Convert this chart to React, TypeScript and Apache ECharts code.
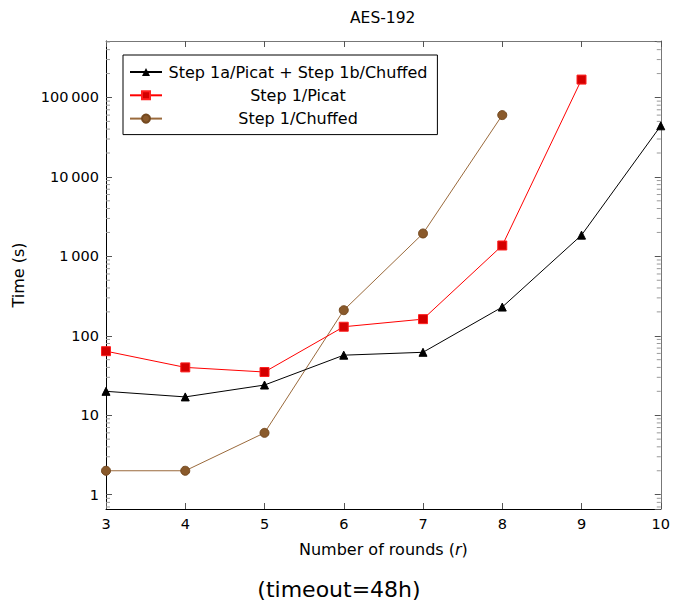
import React, { useEffect, useRef } from "react";
import * as echarts from "echarts";

const rounds = [3, 4, 5, 6, 7, 8, 9, 10];
const seriesNames = ["Step 1a/Picat + Step 1b/Chuffed", "Step 1/Picat", "Step 1/Chuffed"];
const combinedTimes = [20, 17, 24, 57, 62, 230, 1850, 44000];
const picatTimes = [64, 40, 35, 130, 162, 1370, 168000];
const chuffedTimes = [2, 2, 6, 210, 1940, 60000];
const titleText = "AES-192";
const xAxisName = "Number of rounds ({i|r})";
const yAxisName = "Time (s)";
const footnote = "(timeout=48h)";

const FONT = "DejaVu Sans";

const minorTickValues: number[] = [];
[0.1, 1, 10, 100, 1000, 10000, 100000].forEach((d) => {
  [2, 3, 4, 5, 6, 7, 8, 9].forEach((m) => minorTickValues.push(m * d));
});

const fmtThousands = (v: number) =>
  String(Math.round(v)).replace(/\B(?=(\d{3})+(?!\d))/g, "\u2009");

const toPairs = (vals: number[]) => vals.map((v, i) => [rounds[i], v]);

export default function App() {
  const ref = useRef<HTMLDivElement>(null);
  useEffect(() => {
    if (!ref.current) return;
    const chart = echarts.init(ref.current, undefined, { renderer: "svg" });
    const yMin = 0.66;
    const yMax = 514000;
    const baseY = {
      type: "log" as const,
      logBase: 10,
      min: yMin,
      max: yMax,
      splitLine: { show: false },
      axisTick: { show: true, inside: true, length: 6, lineStyle: { color: "#555", width: 1 } },
    };
    const baseX = {
      type: "value" as const,
      min: 3,
      max: 10,
      interval: 1,
      splitLine: { show: false },
      axisTick: { show: true, inside: true, length: 6, lineStyle: { color: "#555", width: 1 } },
    };
    chart.setOption({
      animation: false,
      textStyle: { fontFamily: FONT },
      grid: { left: 106, right: 10.5, top: 41, bottom: 95, containLabel: false },
      xAxis: [
        {
          ...baseX,
          position: "bottom",
          axisLine: { show: true, onZero: false, lineStyle: { color: "#000", width: 1 } },
          axisLabel: { color: "#000", fontSize: 14.5, fontFamily: FONT, margin: 7 },
          name: xAxisName,
          nameLocation: "middle",
          nameGap: 32,
          nameTextStyle: {
            color: "#000",
            fontSize: 16,
            fontFamily: FONT,
            rich: { i: { fontStyle: "italic", fontSize: 16, fontFamily: FONT, color: "#000" } },
          },
        },
        {
          ...baseX,
          position: "top",
          axisLine: { show: true, onZero: false, lineStyle: { color: "#777", width: 1 } },
          axisLabel: { show: false },
        },
      ],
      yAxis: [
        {
          ...baseY,
          position: "left",
          axisLine: { show: true, onZero: false, lineStyle: { color: "#000", width: 1 } },
          axisLabel: {
            color: "#000",
            fontSize: 14.5,
            fontFamily: FONT,
            margin: 7,
            showMinLabel: false,
            showMaxLabel: false,
            formatter: (v: number) => fmtThousands(v),
          },
          name: yAxisName,
          nameLocation: "middle",
          nameGap: 80,
          nameRotate: 90,
          nameTextStyle: { color: "#000", fontSize: 16, fontFamily: FONT },
        },
        {
          ...baseY,
          position: "right",
          axisLine: { show: true, onZero: false, lineStyle: { color: "#777", width: 1 } },
          axisLabel: { show: false },
        },
      ],
      legend: {
        orient: "vertical",
        left: 123,
        top: 55,
        data: seriesNames,
        itemWidth: 32,
        itemHeight: 10,
        itemGap: 7.3,
        padding: [9, 10, 8, 6],
        borderColor: "#000",
        borderWidth: 1,
        borderRadius: 0,
        backgroundColor: "#fff",
        formatter: (name: string) => `{c|${name}}`,
        textStyle: {
          fontFamily: FONT,
          fontSize: 16,
          color: "#000",
          rich: { c: { width: 262, align: "center", fontSize: 16, fontFamily: FONT, color: "#000" } },
        },
      },
      graphic: [
        {
          type: "text",
          left: 384 - 34,
          top: 10,
          style: { text: titleText, fontFamily: FONT, fontSize: 15.5, fill: "#000" },
        },
        {
          type: "text",
          x: 339,
          y: 589,
          style: {
            text: footnote,
            fontFamily: FONT,
            fontSize: 22,
            fill: "#000",
            align: "center",
            verticalAlign: "middle",
          },
        },
      ],
      series: [
        {
          name: "minor-ticks",
          type: "custom",
          xAxisIndex: 0,
          yAxisIndex: 0,
          silent: true,
          clip: false,
          data: minorTickValues.filter((v) => v > yMin && v < yMax).map((v) => [3, v]),
          renderItem: (_params: any, api: any) => {
            const v = api.value(1);
            const l = api.coord([3, v]);
            const r = api.coord([10, v]);
            return {
              type: "group",
              children: [
                {
                  type: "line",
                  shape: { x1: l[0], y1: l[1], x2: l[0] + 4, y2: l[1] },
                  style: { stroke: "#999", lineWidth: 1 },
                },
                {
                  type: "line",
                  shape: { x1: r[0] - 4, y1: r[1], x2: r[0], y2: r[1] },
                  style: { stroke: "#999", lineWidth: 1 },
                },
              ],
            };
          },
        },
        {
          name: seriesNames[0],
          type: "line",
          data: toPairs(combinedTimes),
          symbol: "triangle",
          symbolSize: 8,
          lineStyle: { color: "#000", width: 1 },
          itemStyle: { color: "#000", borderColor: "#000" },
          z: 4,
        },
        {
          name: seriesNames[1],
          type: "line",
          data: toPairs(picatTimes),
          symbol: "rect",
          symbolSize: 9,
          lineStyle: { color: "#ff0000", width: 1 },
          itemStyle: { color: "#d40000", borderColor: "#ff2020", borderWidth: 1 },
          z: 3,
        },
        {
          name: seriesNames[2],
          type: "line",
          data: toPairs(chuffedTimes),
          symbol: "circle",
          symbolSize: 9,
          lineStyle: { color: "#9a6a3c", width: 1 },
          itemStyle: { color: "#8a5a2b", borderColor: "#74491f", borderWidth: 1 },
          z: 2,
        },
      ],
    });
    return () => chart.dispose();
  }, []);
  return <div ref={ref} style={{ width: 673, height: 604, position: "absolute", left: 0, top: 0 }} />;
}
